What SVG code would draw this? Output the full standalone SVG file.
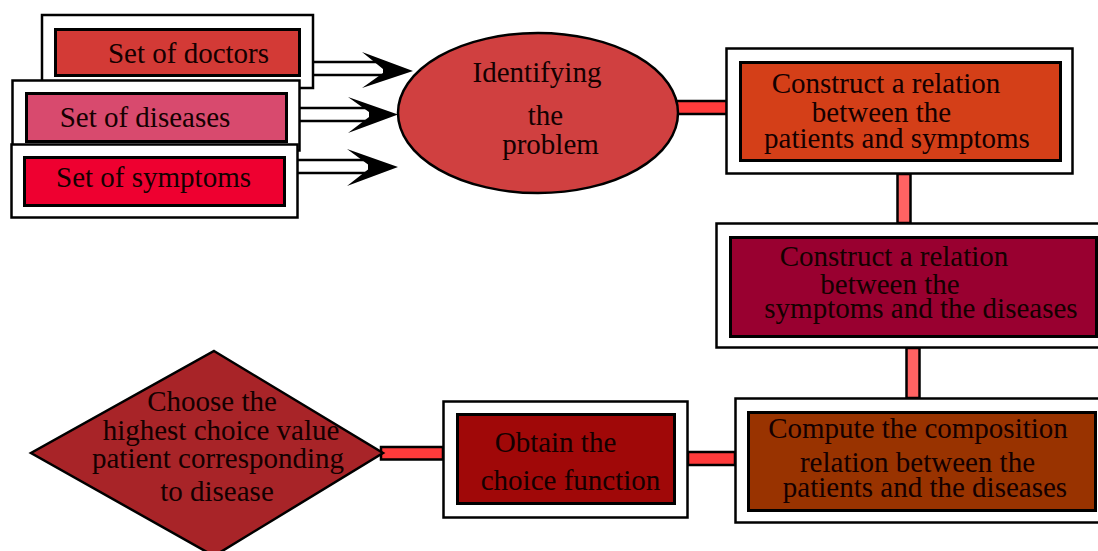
<svg xmlns="http://www.w3.org/2000/svg" width="1098" height="551" viewBox="0 0 1098 551">
<style>
.outer{fill:#fff;stroke:#000;stroke-width:2.5}
.inner{stroke:#000;stroke-width:3}
.t{font-family:"Liberation Serif","Times New Roman",serif;font-size:29px;fill:#140000;text-anchor:middle}
.hl{stroke:#000;stroke-width:2.5;fill:none}
.hd{fill:#000}
.hc{fill:#ff3b3b;stroke:#000;stroke-width:2.5}
.vc{fill:#ff6363;stroke:#000;stroke-width:2.5}
</style>
<rect width="1098" height="551" fill="#fff"/>
<g id="doctors">
<rect class="outer" x="42" y="15" width="271" height="73"/>
<rect class="inner" x="55.5" y="29.5" width="244" height="46" fill="#d33a36"/>
<text class="t" x="188.5" y="63">Set of doctors</text>
</g>
<g id="diseases">
<rect class="outer" x="12.5" y="80.5" width="287" height="70"/>
<rect class="inner" x="26.5" y="93.5" width="260" height="48" fill="#d84a6e"/>
<text class="t" x="145" y="127">Set of diseases</text>
</g>
<g id="symptoms">
<rect class="outer" x="11.5" y="144.5" width="286" height="73"/>
<rect class="inner" x="24.5" y="157.5" width="260" height="48" fill="#ee0030"/>
<text class="t" x="153.5" y="187">Set of symptoms</text>
</g>
<g id="connectors">
<path class="hl" d="M313,62 H384 M313,75 H384"/>
<path class="hd" d="M413,71 L362,52 L383,69 L383,73 L362,88 Z"/>
<path class="hl" d="M300,108 H370 M300,121 H370"/>
<path class="hd" d="M398,114.5 L348,97 L369,112 L369,117 L348,133 Z"/>
<path class="hl" d="M298,160 H369 M298,173 H369"/>
<path class="hd" d="M398,167 L347,149 L368,164.5 L368,169.5 L347,186 Z"/>
<rect class="hc" x="676" y="101" width="51" height="13"/>
<rect class="vc" x="897.5" y="174" width="13" height="49"/>
<rect class="vc" x="906.5" y="348" width="13" height="50"/>
<rect class="hc" x="688" y="452" width="47" height="13"/>
<rect class="hc" x="381" y="447" width="62" height="12.5"/>
</g>
<g id="identify">
<ellipse cx="538" cy="113" rx="140" ry="80" fill="#d04040" stroke="#000" stroke-width="2.5"/>
<text class="t" x="537" y="82">Identifying</text>
<text class="t" x="545.5" y="125">the</text>
<text class="t" x="550.5" y="154">problem</text>
</g>
<g id="rel-ps">
<rect class="outer" x="726.5" y="48.5" width="346" height="125"/>
<rect class="inner" x="740.5" y="62.5" width="320" height="98" fill="#d43f18"/>
<text class="t" x="886" y="93">Construct a relation</text>
<text class="t" x="881.5" y="122">between the</text>
<text class="t" x="897" y="148">patients and symptoms</text>
</g>
<g id="rel-sd">
<rect class="outer" x="716.5" y="223.5" width="395" height="124"/>
<rect class="inner" x="730.5" y="237.5" width="366" height="99" fill="#990030"/>
<text class="t" x="894" y="266">Construct a relation</text>
<text class="t" x="890" y="294">between the</text>
<text class="t" x="921" y="318">symptoms and the diseases</text>
</g>
<g id="compute">
<rect class="outer" x="735.5" y="398.5" width="375" height="124"/>
<rect class="inner" x="748.5" y="412.5" width="347" height="98" fill="#993300"/>
<text class="t" x="918" y="438">Compute the composition</text>
<text class="t" x="917.5" y="472">relation between the</text>
<text class="t" x="925" y="497">patients and the diseases</text>
</g>
<g id="obtain">
<rect class="outer" x="443.5" y="401.5" width="244" height="116"/>
<rect class="inner" x="457.5" y="414.5" width="217" height="89" fill="#a00808"/>
<text class="t" x="555.5" y="452">Obtain the</text>
<text class="t" x="570.5" y="490">choice function</text>
</g>
<g id="choose">
<polygon points="214,351 383,453 214,556 31,453" fill="#a82428" stroke="#000" stroke-width="2.5"/>
<text class="t" x="212" y="411">Choose the</text>
<text class="t" x="221" y="440">highest choice value</text>
<text class="t" x="218" y="468">patient corresponding</text>
<text class="t" x="217" y="501">to disease</text>
</g>
</svg>
